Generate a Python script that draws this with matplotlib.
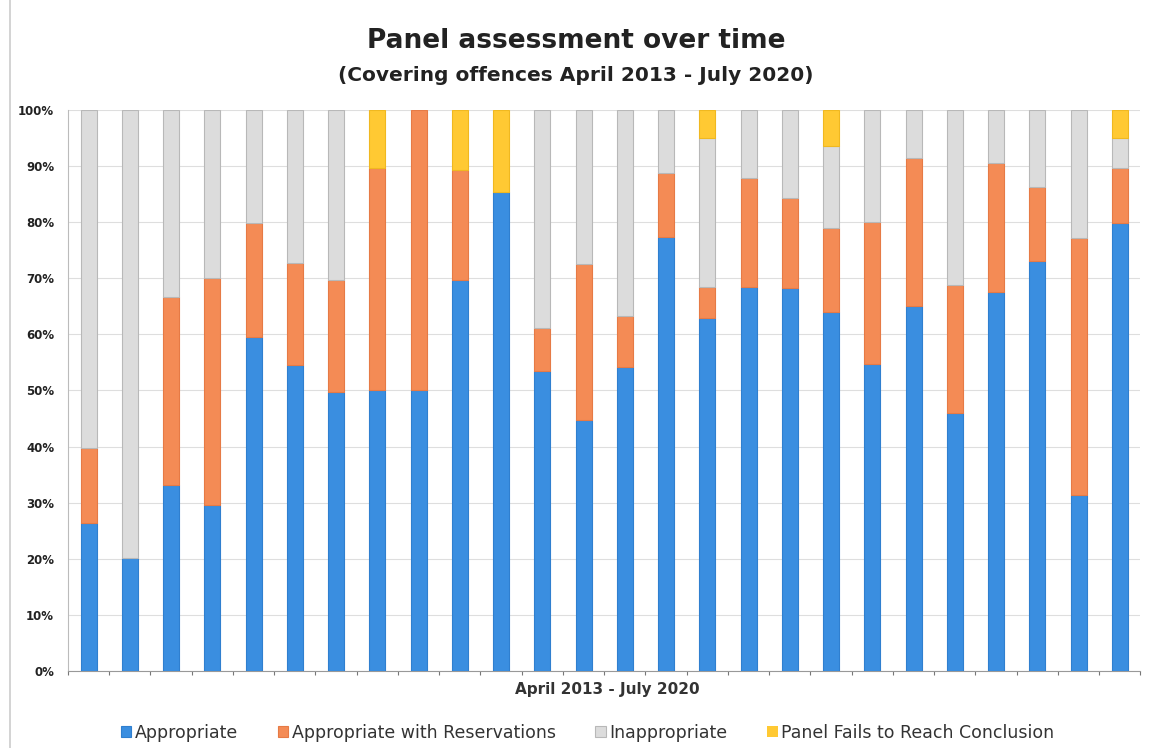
import matplotlib as mpl
mpl.use("Agg")
import matplotlib.pyplot as plt
import numpy as np

# stacked shares (%) per period
appropriate = [26.4, 20.1, 33.2, 29.6, 59.6, 54.5, 49.8, 50.0, 50.0, 69.7, 85.4, 53.4, 44.7,
               54.2, 77.4, 62.9, 68.5, 68.3, 64.0, 54.7, 65.0, 46.0, 67.6, 73.0, 31.4, 79.9]
reservations = [13.3, 0.0, 33.5, 40.4, 20.3, 18.2, 19.9, 39.7, 50.0, 19.6, 0.0, 7.7, 27.8,
                9.0, 11.4, 5.6, 19.4, 16.0, 15.0, 25.4, 26.4, 22.8, 22.9, 13.3, 45.8, 9.8]
inappropriate = [60.3, 79.9, 33.3, 30.0, 20.1, 27.3, 30.3, 0.0, 0.0, 0.0, 0.0, 38.9, 27.5,
                 36.8, 11.2, 26.5, 12.1, 15.7, 14.5, 19.9, 8.6, 31.2, 9.5, 13.7, 22.8, 5.3]
no_conclusion = [0.0, 0.0, 0.0, 0.0, 0.0, 0.0, 0.0, 10.3, 0.0, 10.7, 14.6, 0.0, 0.0,
                 0.0, 0.0, 5.0, 0.0, 0.0, 6.5, 0.0, 0.0, 0.0, 0.0, 0.0, 0.0, 5.0]

labels = ["Appropriate", "Appropriate with Reservations", "Inappropriate",
          "Panel Fails to Reach Conclusion"]
colors = ["#3a8ee0", "#f48b55", "#dcdcdc", "#ffc933"]
edges = ["#2f7fcf", "#e67a45", "#b8b8b8", "#f0b820"]

fig = plt.figure(figsize=(11.52, 7.48), dpi=100)
ax = fig.add_axes([0.059, 0.103, 0.931, 0.750])

x = np.arange(len(appropriate))
bottom = np.zeros(len(x))
series = [appropriate, reservations, inappropriate, no_conclusion]
for vals, lab, c, ec in zip(series, labels, colors, edges):
    vals = np.array(vals)
    lw = np.where(vals > 0, 0.8, 0.0)
    ax.bar(x, vals, width=0.39, bottom=bottom, color=c, edgecolor=ec,
           linewidth=lw, label=lab, zorder=3)
    bottom += vals

ax.set_ylim(0, 100)
ax.set_xlim(-0.5, len(x) - 0.5)
ax.set_yticks(np.arange(0, 101, 10))
ax.set_yticklabels([f"{v}%" for v in range(0, 101, 10)], fontsize=8.5,
                   fontweight="bold", color="#222222")
ax.set_xticks(np.arange(-0.5, len(x), 1))
ax.set_xticklabels([])
ax.tick_params(axis="x", length=3, color="#777777")
ax.tick_params(axis="y", length=0, pad=10)
ax.yaxis.grid(True, color="#dedede", linewidth=0.8, zorder=0)
for s in ["top", "right"]:
    ax.spines[s].set_visible(False)
ax.spines["left"].set_color("#bbbbbb")
ax.spines["bottom"].set_color("#999999")

fig.text(0.5, 0.945, "Panel assessment over time", ha="center", va="center",
         fontsize=19, fontweight="bold", color="#222222")
fig.text(0.5, 0.899, "(Covering offences April 2013 - July 2020)", ha="center",
         va="center", fontsize=14.5, fontweight="bold", color="#222222")
fig.text(0.527, 0.078, "April 2013 - July 2020", ha="center", va="center",
         fontsize=11, fontweight="bold", color="#333333")

handles, _ = ax.get_legend_handles_labels()
leg = fig.legend(handles, labels, loc="center", bbox_to_anchor=(0.51, 0.02),
                 ncol=4, frameon=False, fontsize=12.5, handlelength=0.6,
                 handleheight=0.6, handletextpad=0.2, columnspacing=2.3)
for t in leg.get_texts():
    t.set_color("#333333")

fig.add_artist(plt.Line2D([0.009, 0.009], [0.0, 1.0], color="#cccccc",
                          linewidth=1.2, transform=fig.transFigure))

fig.savefig("out.png", dpi=100, facecolor="white")
